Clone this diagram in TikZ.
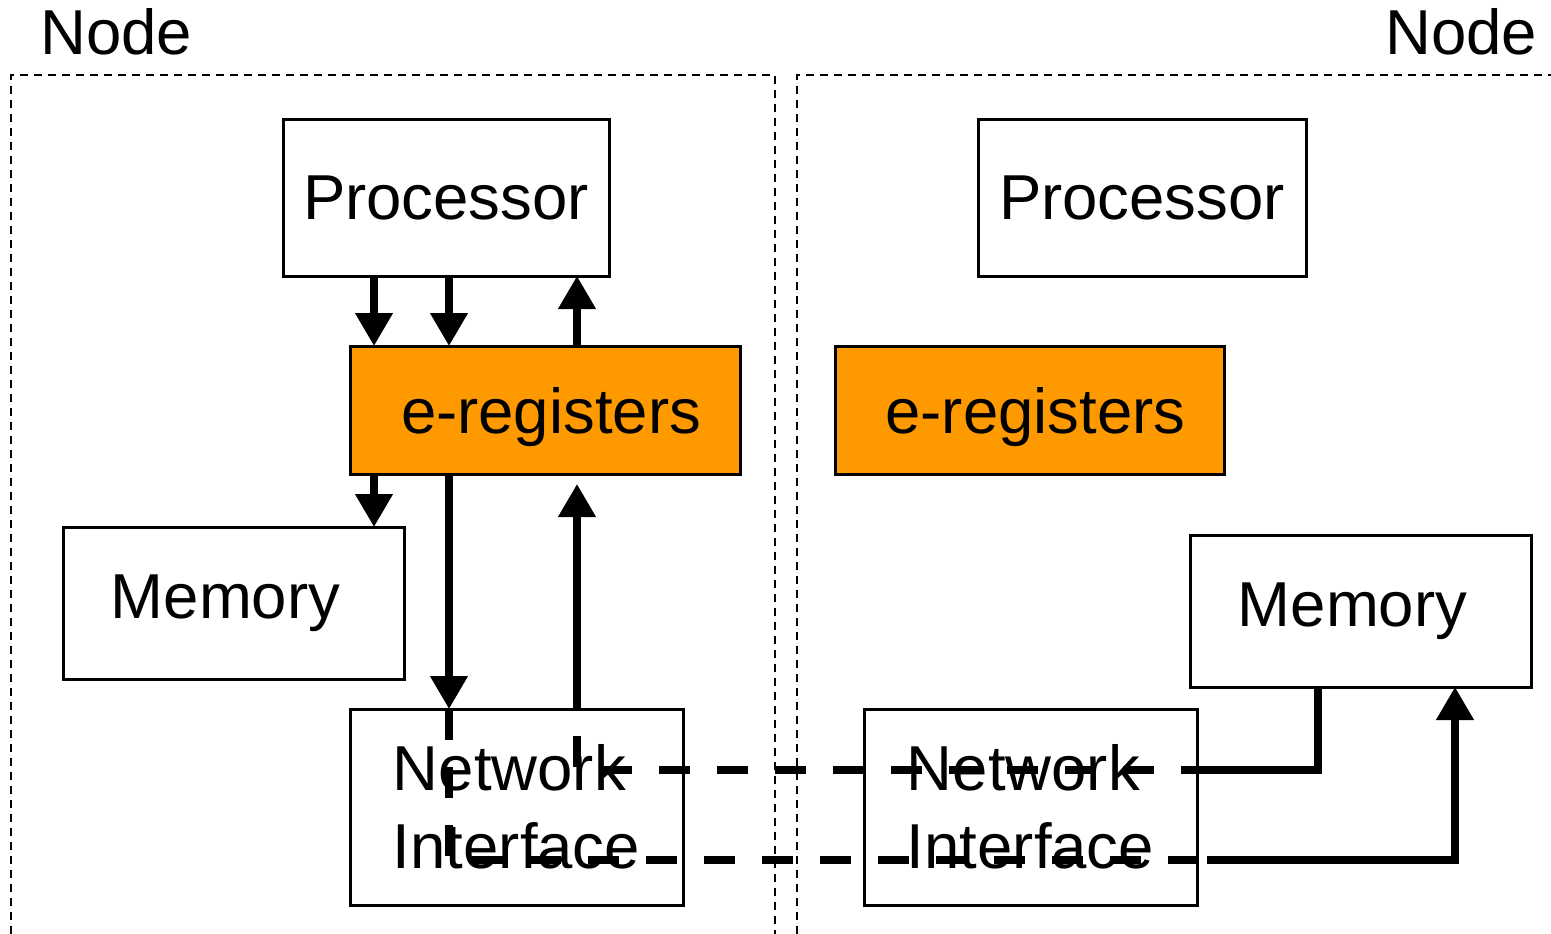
\documentclass[tikz,border=0pt]{standalone}
\usepackage{fontspec}
\setmainfont{Liberation Sans}
\usetikzlibrary{arrows.meta}
\definecolor{regorange}{RGB}{255,153,0}
\begin{document}
\begin{tikzpicture}[x=1pt,y=-1pt,
  bigfont/.style={font=\fontsize{63.5}{78}\selectfont},
  lbl/.style={bigfont, inner sep=0pt},
  box/.style={bigfont, draw=black, line width=3pt, fill=white, inner sep=0pt, outer sep=0pt},
  regbox/.style={box, fill=regorange, text depth=0pt},
  frame/.style={line width=1.4pt, dash pattern=on 8pt off 6pt},
  link/.style={line width=7.5pt},
  arr/.style={link, -{Triangle[width=36pt,length=33pt]}},
  netdash/.style={link, dash pattern=on 31pt off 27pt},
]
\useasboundingbox (0,0) rectangle (1551,934);

% node frames
\draw[frame] (11,934) -- (11,75) -- (775,75) -- (775,934);
\draw[frame] (797,934) -- (797,75) -- (1551,75);
\node[lbl, anchor=base west] (nodeL) at (40,55) {Node};
\node[lbl, anchor=base west] (nodeR) at (1385,55) {Node};

% blocks
\node[box, minimum width=326pt, minimum height=157pt] (procL) at (446,197.5) {Processor};
\node[box, minimum width=328pt, minimum height=157pt] (procR) at (1142,197.5) {Processor};
\node[regbox, minimum width=390pt, minimum height=128pt] (regL) at (545,410) {\hspace*{12pt}e-registers};
\node[regbox, minimum width=389pt, minimum height=128pt] (regR) at (1029.5,410) {\hspace*{12pt}e-registers};
\node[box, minimum width=341pt, minimum height=152pt] (memL) at (233.5,603) {Memory\hspace*{16pt}};
\node[box, minimum width=341pt, minimum height=152pt] (memR) at (1360.5,611) {Memory\hspace*{16pt}};
\node[box, align=left, minimum width=333pt, minimum height=196pt] (niL) at (516.5,807) {Network\\Interface};
\node[box, align=left, minimum width=333pt, minimum height=196pt] (niR) at (1030.5,807) {Network\\Interface};

% lanes
\coordinate (xa) at (374,0);
\coordinate (xb) at (449,0);
\coordinate (xc) at (577,0);
\coordinate (xd) at (1318,0);
\coordinate (xe) at (1455,0);
\coordinate (xf) at (1207,0);
\coordinate (ya) at (0,770);
\coordinate (yb) at (0,860);
\coordinate (yc) at (0,484);

% local connections
\draw[arr] (procL.south -| xa) -- (regL.north -| xa);
\draw[arr] (procL.south -| xb) -- (regL.north -| xb);
\draw[arr] (regL.north -| xc) -- (procL.south -| xc);
\draw[arr] (regL.south -| xa) -- (memL.north -| xa);
\draw[arr] (regL.south -| xb) -- (niL.north -| xb);
\draw[arr] (niL.north -| xc) -- (yc -| xc);

% network traffic
\draw[netdash, dash phase=31pt] (niL.north -| xc) -- (ya -| xc) -- (niR.east |- ya);
\draw[link] (niR.east |- ya) -| (memR.south -| xd);
\draw[netdash] (niL.north -| xb) -- (yb -| xb) -- (niR.east |- yb);
\draw[arr] (xf |- yb) -| (memR.south -| xe);
\end{tikzpicture}
\end{document}
